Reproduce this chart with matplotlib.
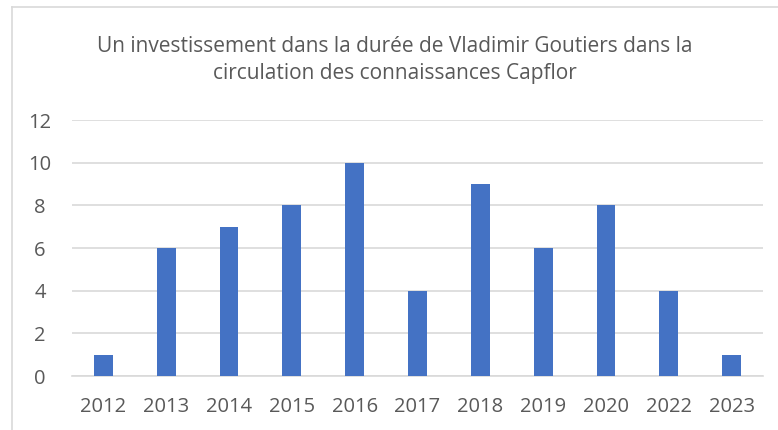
import numpy as np
import matplotlib.pyplot as plt
from matplotlib.lines import Line2D

# data
years = ['2012', '2013', '2014', '2015', '2016', '2017', '2018', '2019', '2020', '2022', '2023']
values = [1, 6, 7, 8, 10, 4, 9, 6, 8, 4, 1]
yticks = [0, 2, 4, 6, 8, 10, 12]

title = ("Un investissement dans la durée de Vladimir Goutiers dans la\n"
         "circulation des connaissances Capflor")

plt.rcParams['font.family'] = ['Open Sans', 'DejaVu Sans']

fig = plt.figure(figsize=(7.78, 4.30), dpi=100)
ax = fig.add_axes([72 / 778, 1 - 376 / 430, (763 - 72) / 778, (376 - 120) / 430])

x = np.arange(len(years))
ax.bar(x, values, width=0.3, color='#4472C4', zorder=3)

ax.set_xlim(-0.5, len(years) - 0.5)
ax.set_ylim(0, 12)
ax.set_yticks(yticks)
ax.set_xticks(x)
ax.set_xticklabels(years)
ax.grid(axis='y', color='#D9D9D9', linewidth=1.2, zorder=0)
for s in ['top', 'right', 'left']:
    ax.spines[s].set_visible(False)
ax.spines['bottom'].set_color('#D9D9D9')
ax.spines['bottom'].set_linewidth(1.2)
ax.tick_params(axis='both', length=0, labelsize=14.5, colors='#595959')
ax.tick_params(axis='y', pad=23)
ax.tick_params(axis='x', pad=15)
for lbl in ax.get_yticklabels():
    lbl.set_horizontalalignment('center')

fig.text(0.508, 1 - 60 / 430, title, ha='center', va='center',
         fontsize=15, color='#595959', linespacing=1.4)

# chart border (top and left edges visible in the reference)
fig.add_artist(Line2D([12 / 778, 1], [1 - 7 / 430, 1 - 7 / 430],
                      transform=fig.transFigure, color='#D9D9D9', linewidth=1.2))
fig.add_artist(Line2D([12 / 778, 12 / 778], [0, 1 - 7 / 430],
                      transform=fig.transFigure, color='#D9D9D9', linewidth=1.2))

fig.savefig('out.png', dpi=100)
